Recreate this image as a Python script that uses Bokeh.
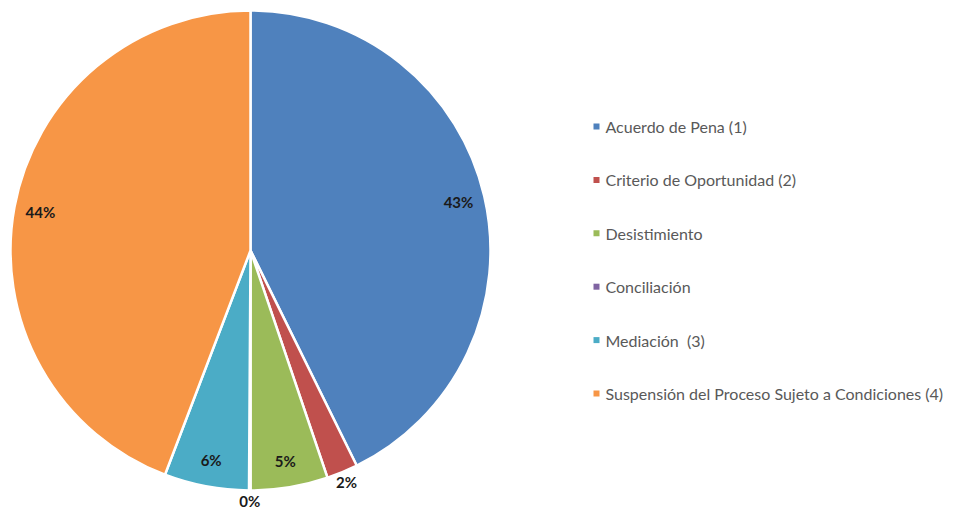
import math
from bokeh.plotting import figure
from bokeh.models import Range1d, ColumnDataSource
from bokeh.core.properties import value
from bokeh.embed import file_html
from bokeh.resources import INLINE

categories = ["Acuerdo de Pena (1)", "Criterio de Oportunidad (2)", "Desistimiento",
              "Conciliación", "Mediación\u00a0 (3)", "Suspensión del Proceso Sujeto a Condiciones (4)"]
shares = [42.7, 2.1, 5.2, 0.1, 5.7, 44.2]
labels = ["43%", "2%", "5%", "0%", "6%", "44%"]
colors = ["#4F81BD", "#C0504D", "#9BBB59", "#8064A2", "#4BACC6", "#F79646"]

W, H = 950, 513
p = figure(width=W, height=H, output_backend="svg", toolbar_location=None,
           x_range=Range1d(0, W), y_range=Range1d(-H, 0),
           min_border=0, outline_line_color=None)
p.axis.visible = False
p.grid.visible = False

cx, cy, R = 250, -250, 240
total = sum(shares)
starts, ends, mids = [], [], []
cum = 0.0
for s in shares:
    a0 = cum / total
    cum += s
    a1 = cum / total
    starts.append(math.pi / 2 - 2 * math.pi * a0)
    ends.append(math.pi / 2 - 2 * math.pi * a1)
    mids.append(math.pi / 2 - 2 * math.pi * (a0 + a1) / 2)

src = ColumnDataSource(dict(start=starts, end=ends, color=colors))
p.wedge(x=cx, y=cy, radius=R, start_angle="start", end_angle="end", direction="clock",
        fill_color="color", line_color="white", line_width=2.5, source=src)

lx, ly = [], []
for s, m in zip(shares, mids):
    r = R * (0.89 if s / total >= 0.03 else 1.045)
    lx.append(cx + r * math.cos(m))
    ly.append(cy + r * math.sin(m))
p.text(x=lx, y=ly, text=labels, text_align="center", text_baseline="middle",
       text_font=value("Lato"), text_font_style="bold", text_font_size="15px",
       text_color="#1a1a1a")

legend_y = [-(126 + 53.4 * i) for i in range(len(categories))]
p.rect(x=[596] * len(categories), y=legend_y, width=6, height=6, fill_color=colors,
       line_color=None)
p.text(x=[605] * len(categories), y=legend_y, text=categories, text_align="left",
       text_baseline="middle", text_font=value("Lato"), text_font_size="16px",
       text_color="#595959")

open("out.html", "w").write(file_html(p, INLINE))
